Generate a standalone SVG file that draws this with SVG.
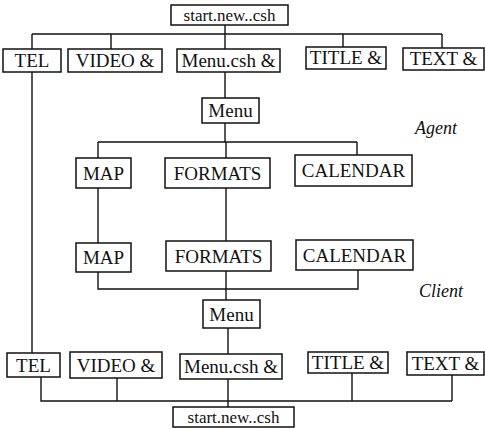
<svg xmlns="http://www.w3.org/2000/svg" width="485" height="429" viewBox="0 0 485 429">
<style>
rect{fill:#fff;stroke:#111;stroke-width:1.5}
text{font-family:"Liberation Serif","DejaVu Serif",serif;font-size:19px;fill:#111;text-anchor:middle}
.sm{font-size:17px}
.lbl{font-style:italic;font-size:18px;text-anchor:start}
#connectors path{fill:none;stroke:#111;stroke-width:1.4}
</style>
<rect x="0" y="0" width="485" height="429" style="fill:#fff;stroke:none"/>
<g id="connectors">
<path d="M32 34H442M32 34V49M111 34V49M225 25V49M343 34V47M442 34V48"/>
<path d="M225 72V98M225 123V142M98 142H357M98 142V158M226 142V158M357 142V155"/>
<path d="M98 188V243M226 188V241"/>
<path d="M98 272V289H358V270M226 271V300"/>
<path d="M228 328V354"/>
<path d="M32 72V353"/>
<path d="M41 377V401H452M117 378V401M228 379V407M352 373V401M452 375V401"/>
</g>
<g id="start_top"><rect x="171" y="5" width="117" height="20"/><text class="sm" x="229.5" y="20.5">start.new..csh</text></g>
<g id="tel_top"><rect x="3" y="49" width="58" height="23"/><text x="32" y="67">TEL</text></g>
<g id="video_top"><rect x="68" y="49" width="94" height="23"/><text x="115" y="67">VIDEO &amp;</text></g>
<g id="menucsh_top"><rect x="177" y="49" width="103" height="23"/><text x="228.5" y="67">Menu.csh &amp;</text></g>
<g id="title_top"><rect x="306" y="47" width="80" height="22"/><text x="346" y="64">TITLE &amp;</text></g>
<g id="text_top"><rect x="403" y="48" width="81" height="22"/><text x="443.5" y="65">TEXT &amp;</text></g>
<g id="menu_agent"><rect x="202" y="98" width="57" height="25"/><text x="230.5" y="117">Menu</text></g>
<g id="agent_label"><text class="lbl" x="415" y="134">Agent</text></g>
<g id="map_agent"><rect x="76" y="158" width="55" height="30"/><text x="103.5" y="180">MAP</text></g>
<g id="formats_agent"><rect x="165" y="158" width="105" height="30"/><text x="217.5" y="180">FORMATS</text></g>
<g id="calendar_agent"><rect x="295" y="155" width="117" height="31"/><text x="353.5" y="177">CALENDAR</text></g>
<g id="map_client"><rect x="76" y="243" width="55" height="29"/><text x="103.5" y="264">MAP</text></g>
<g id="formats_client"><rect x="166" y="241" width="105" height="30"/><text x="218.5" y="263">FORMATS</text></g>
<g id="calendar_client"><rect x="296" y="240" width="117" height="30"/><text x="354.5" y="262">CALENDAR</text></g>
<g id="client_label"><text class="lbl" x="419" y="297">Client</text></g>
<g id="menu_client"><rect x="203" y="300" width="57" height="28"/><text x="231.5" y="321">Menu</text></g>
<g id="tel_bot"><rect x="7" y="353" width="53" height="24"/><text x="33.5" y="372">TEL</text></g>
<g id="video_bot"><rect x="70" y="352" width="92" height="26"/><text x="116" y="372">VIDEO &amp;</text></g>
<g id="menucsh_bot"><rect x="180" y="354" width="102" height="25"/><text x="231" y="373">Menu.csh &amp;</text></g>
<g id="title_bot"><rect x="308" y="352" width="80" height="21"/><text x="348" y="369">TITLE &amp;</text></g>
<g id="text_bot"><rect x="407" y="352" width="77" height="23"/><text x="445.5" y="370">TEXT &amp;</text></g>
<g id="start_bot"><rect x="173" y="407" width="121" height="20"/><text class="sm" x="233.5" y="422.5">start.new..csh</text></g>
</svg>
